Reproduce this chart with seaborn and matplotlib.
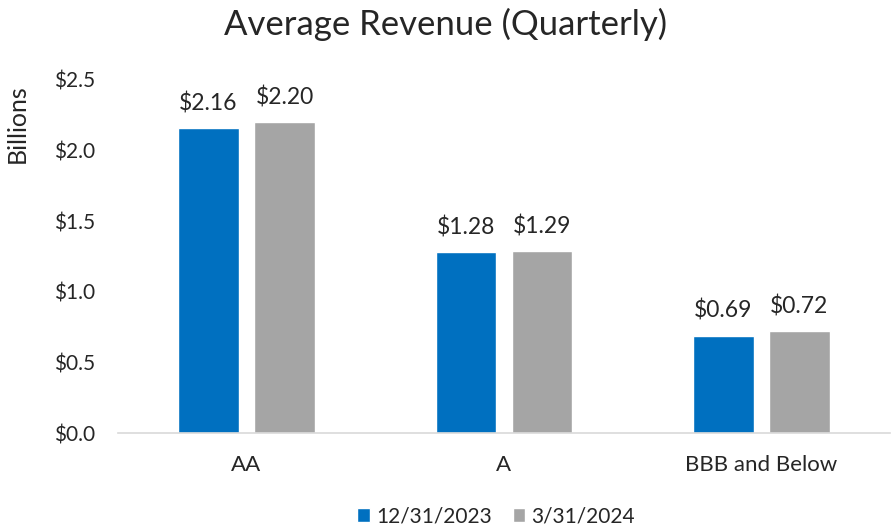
import pandas as pd
import numpy as np
import matplotlib
matplotlib.use("Agg")
import matplotlib.pyplot as plt
import seaborn as sns

# data
ratings = ["AA", "A", "BBB and Below"]
periods = ["12/31/2023", "3/31/2024"]
rev_2023 = [2.16, 1.28, 0.69]
rev_2024 = [2.20, 1.29, 0.72]
colors = ["#0070C0", "#A5A5A5"]

df = pd.DataFrame({
    "rating": ratings * 2,
    "period": [periods[0]] * 3 + [periods[1]] * 3,
    "revenue": rev_2023 + rev_2024,
})

sns.set_style("white")
plt.rcParams["font.family"] = ["Lato", "DejaVu Sans"]

fig = plt.figure(figsize=(8.92, 5.29), dpi=100)
ax = fig.add_axes([0.132, 0.181, 0.866, 0.668])
sns.barplot(data=df, x="rating", y="revenue", hue="period", palette=colors,
            width=0.59, gap=0.2, ax=ax, saturation=1)

for cont in ax.containers:
    ax.bar_label(cont, labels=["$%.2f" % v for v in cont.datavalues],
                 padding=10, fontsize=16.5)

ax.set_ylim(0, 2.5)
ax.set_yticks(np.arange(0, 2.51, 0.5))
ax.set_yticklabels(["$%.1f" % t for t in np.arange(0, 2.51, 0.5)], fontsize=15)
ax.tick_params(axis="x", labelsize=16, length=0, pad=16)
ax.tick_params(axis="y", length=0, pad=16)
ax.set_xlabel("")
ax.set_ylabel("Billions", fontsize=18)
ax.yaxis.set_label_coords(-0.115, 0.877)
for s in ["top", "right", "left"]:
    ax.spines[s].set_visible(False)
ax.spines["bottom"].set_color("#D9D9D9")
ax.spines["bottom"].set_linewidth(1.2)

fig.suptitle("Average Revenue (Quarterly)", fontsize=25, y=0.985)

ax.legend(loc="center", bbox_to_anchor=(0.49, -0.235), ncol=2, frameon=False,
          fontsize=15, handlelength=0.6, handleheight=0.6, handletextpad=0.3,
          columnspacing=1.0, borderpad=0.1)

plt.savefig("out.png", dpi=100)
